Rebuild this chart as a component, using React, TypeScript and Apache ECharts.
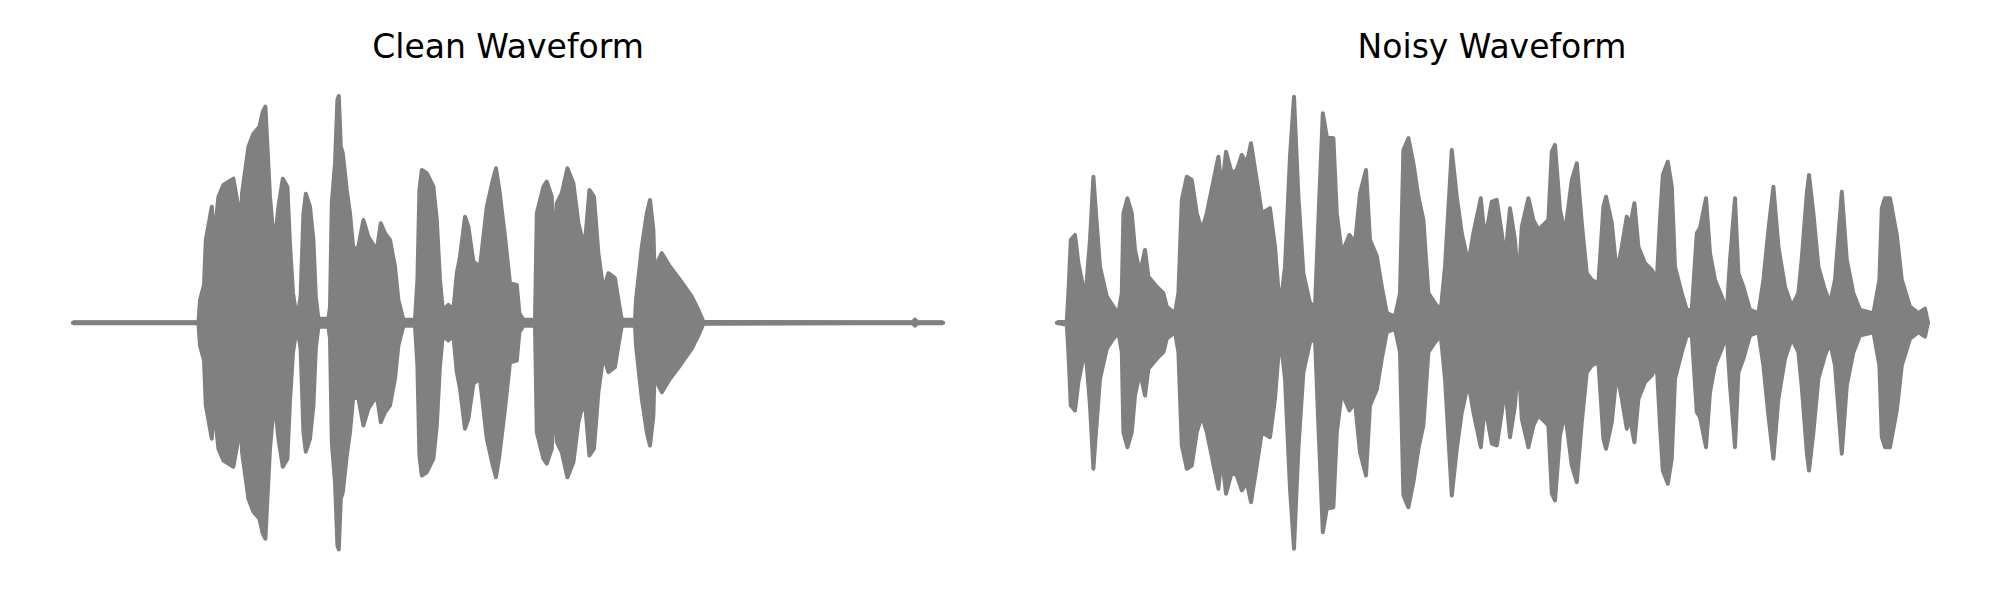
import React, { useEffect, useRef } from "react";
import * as echarts from "echarts";

// Envelope of the waveforms: [time (s), peak amplitude]
const cleanEnvelope: [number, number][] = [
  [0, 0], [0.627, 0], [0.635, 0.091], [0.655, 0.151], [0.664, 0.331], [0.694, 0.464], [0.705, 0.331],
  [0.727, 0.504], [0.752, 0.551], [0.802, 0.576], [0.824, 0.476], [0.835, 0.236], [0.845, 0.516],
  [0.877, 0.704], [0.902, 0.756], [0.932, 0.784], [0.949, 0.844], [0.962, 0.864], [0.985, 0.504],
  [1.007, 0.304], [1.027, 0.464], [1.049, 0.576], [1.072, 0.544], [1.085, 0.312], [1.1, 0.12],
  [1.12, 0.012], [1.138, 0.104], [1.152, 0.436], [1.164, 0.516], [1.185, 0.464], [1.202, 0.332],
  [1.214, 0.104], [1.227, 0.016], [1.277, 0.016], [1.285, 0.064], [1.294, 0.478], [1.31, 0.638],
  [1.322, 0.891], [1.329, 0.907], [1.339, 0.704], [1.349, 0.678], [1.369, 0.531], [1.385, 0.438],
  [1.402, 0.291], [1.427, 0.304], [1.452, 0.411], [1.477, 0.344], [1.519, 0.291], [1.539, 0.398],
  [1.56, 0.358], [1.585, 0.331], [1.61, 0.224], [1.627, 0.091], [1.652, 0.012], [1.71, 0.012],
  [1.722, 0.171], [1.732, 0.531], [1.744, 0.611], [1.769, 0.598], [1.802, 0.544], [1.819, 0.411],
  [1.835, 0.171], [1.849, 0.051], [1.877, 0.071], [1.902, 0.051], [1.919, 0.198], [1.935, 0.264],
  [1.96, 0.424], [1.977, 0.384], [2.002, 0.244], [2.035, 0.224], [2.069, 0.464], [2.099, 0.571],
  [2.115, 0.618], [2.132, 0.531], [2.16, 0.344], [2.185, 0.158], [2.219, 0.151], [2.232, 0.038],
  [2.252, 0.012], [2.31, 0.012], [2.319, 0.438], [2.352, 0.544], [2.369, 0.564], [2.394, 0.504],
  [2.405, 0.251], [2.419, 0.478], [2.444, 0.518], [2.472, 0.618], [2.502, 0.558], [2.527, 0.398],
  [2.552, 0.318], [2.564, 0.358], [2.582, 0.531], [2.605, 0.504], [2.627, 0.278], [2.652, 0.131],
  [2.677, 0.198], [2.71, 0.178], [2.727, 0.091], [2.744, 0.012], [2.81, 0.012], [2.815, 0.091],
  [2.844, 0.304], [2.869, 0.438], [2.885, 0.491], [2.902, 0.371], [2.91, 0.131], [2.927, 0.251],
  [2.944, 0.278], [2.985, 0.224], [3.035, 0.171], [3.094, 0.104], [3.127, 0.051], [3.152, 0.004],
  [4.195, 0], [4.21, 0.012], [4.225, 0], [4.35, 0],
];

const noisyEnvelope: [number, number][] = [
  [0, 0], [0.049, 0.008], [0.057, 0.118], [0.069, 0.331], [0.09, 0.351], [0.107, 0.238], [0.124, 0.171],
  [0.135, 0.091], [0.149, 0.171], [0.165, 0.331], [0.182, 0.584], [0.195, 0.438], [0.215, 0.224],
  [0.249, 0.104], [0.282, 0.064], [0.307, 0.038], [0.324, 0.118], [0.332, 0.438], [0.352, 0.498],
  [0.374, 0.438], [0.39, 0.291], [0.415, 0.198], [0.44, 0.291], [0.457, 0.184], [0.499, 0.144],
  [0.532, 0.118], [0.549, 0.064], [0.59, 0.038], [0.607, 0.118], [0.624, 0.491], [0.649, 0.584],
  [0.674, 0.571], [0.699, 0.438], [0.724, 0.371], [0.749, 0.438], [0.807, 0.664], [0.824, 0.531],
  [0.845, 0.684], [0.874, 0.598], [0.899, 0.611], [0.924, 0.671], [0.949, 0.638], [0.97, 0.718],
  [0.999, 0.571], [1.024, 0.438], [1.065, 0.458], [1.09, 0.304], [1.115, 0.051], [1.14, 0.224],
  [1.165, 0.664], [1.185, 0.904], [1.207, 0.504], [1.232, 0.198], [1.265, 0.078], [1.29, 0.064],
  [1.307, 0.411], [1.329, 0.838], [1.349, 0.744], [1.382, 0.738], [1.399, 0.438], [1.424, 0.278],
  [1.462, 0.351], [1.49, 0.318], [1.515, 0.518], [1.545, 0.611], [1.565, 0.331], [1.599, 0.267],
  [1.624, 0.144], [1.649, 0.038], [1.69, 0.024], [1.715, 0.118], [1.732, 0.691], [1.757, 0.738],
  [1.782, 0.638], [1.807, 0.504], [1.832, 0.411], [1.857, 0.118], [1.89, 0.078], [1.919, 0.051],
  [1.94, 0.224], [1.974, 0.691], [1.999, 0.504], [2.024, 0.358], [2.057, 0.238], [2.082, 0.358],
  [2.119, 0.498], [2.14, 0.331], [2.174, 0.484], [2.199, 0.491], [2.224, 0.358], [2.24, 0.251],
  [2.265, 0.458], [2.29, 0.331], [2.307, 0.144], [2.324, 0.384], [2.357, 0.498], [2.382, 0.411],
  [2.407, 0.371], [2.457, 0.411], [2.474, 0.684], [2.49, 0.711], [2.515, 0.451], [2.54, 0.358],
  [2.574, 0.571], [2.599, 0.638], [2.624, 0.398], [2.649, 0.198], [2.674, 0.171], [2.707, 0.158],
  [2.732, 0.464], [2.745, 0.504], [2.774, 0.398], [2.799, 0.198], [2.824, 0.304], [2.849, 0.424],
  [2.865, 0.384], [2.887, 0.478], [2.907, 0.304], [2.94, 0.238], [2.974, 0.211], [2.999, 0.171],
  [3.015, 0.411], [3.029, 0.591], [3.054, 0.644], [3.074, 0.544], [3.09, 0.224], [3.124, 0.118],
  [3.149, 0.051], [3.174, 0.051], [3.199, 0.358], [3.215, 0.378], [3.245, 0.498], [3.265, 0.278],
  [3.29, 0.171], [3.324, 0.104], [3.349, 0.048], [3.365, 0.251], [3.39, 0.498], [3.407, 0.198],
  [3.432, 0.144], [3.465, 0.051], [3.507, 0.038], [3.532, 0.171], [3.557, 0.371], [3.582, 0.544],
  [3.607, 0.304], [3.64, 0.144], [3.674, 0.064], [3.707, 0.118], [3.724, 0.258], [3.749, 0.518],
  [3.76, 0.591], [3.782, 0.438], [3.807, 0.224], [3.84, 0.131], [3.865, 0.078], [3.89, 0.171],
  [3.924, 0.524], [3.949, 0.251], [3.982, 0.118], [4.015, 0.051], [4.082, 0.038], [4.112, 0.171],
  [4.124, 0.458], [4.14, 0.498], [4.165, 0.498], [4.199, 0.351], [4.224, 0.171], [4.265, 0.064],
  [4.307, 0.038], [4.34, 0.056], [4.355, 0],
];

const titles = ["Clean Waveform", "Noisy Waveform"];
const GREY = "#808080";

export default function App() {
  const ref = useRef<HTMLDivElement>(null);
  useEffect(() => {
    if (!ref.current) return;
    const chart = echarts.init(ref.current, null, { renderer: "svg" });
    const envs = [cleanEnvelope, noisyEnvelope];
    const lefts = [73, 1057];
    const series: any[] = [];
    envs.forEach((env, i) => {
      [1, -1].forEach((sign) => {
        series.push({
          type: "line",
          xAxisIndex: i,
          yAxisIndex: i,
          data: env.map(([t, a]) => [t, sign * a]),
          symbol: "none",
          silent: true,
          lineStyle: { color: GREY, width: 4, cap: "round", join: "round" },
          // overlap the two halves slightly so no seam shows at zero
          areaStyle: { color: GREY, opacity: 1, origin: -sign * 0.01 },
        });
      });
    });
    chart.setOption({
      animation: false,
      grid: lefts.map((l) => ({ left: l, top: 72.7, width: 871, height: 500 })),
      xAxis: lefts.map((_, i) => ({ type: "value", gridIndex: i, min: 0, max: 4.355, show: false })),
      yAxis: lefts.map((_, i) => ({ type: "value", gridIndex: i, min: -1, max: 1, show: false })),
      series,
      graphic: titles.map((t, i) => ({
        type: "text",
        x: lefts[i] + 435,
        y: 46,
        style: {
          text: t,
          fontSize: 33,
          fontFamily: "DejaVu Sans",
          fill: "#000",
          textAlign: "center",
          textVerticalAlign: "middle",
        },
      })),
    });
    return () => chart.dispose();
  }, []);
  return (
    <div
      ref={ref}
      style={{ position: "fixed", left: 0, top: 0, width: 2000, height: 600, background: "#fff" }}
    />
  );
}
